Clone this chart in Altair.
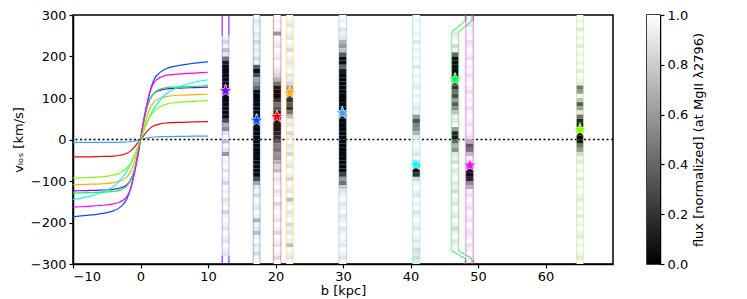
import altair as alt
import pandas as pd

# ---------------- rotation curves ----------------
curve_b = [-10, -8, -6, -4, -3, -2, -1.5, -1, -0.5, 0, 0.5, 1, 1.5, 2, 3, 4, 6, 8, 10]
names = ["purple", "blue", "red", "orange", "lightblue", "cyan", "green", "magenta", "lime"]
colors = ["#8000ff", "#0050ff", "#ff0000", "#ffb000", "#40a0ff", "#00ffff", "#00ff40", "#ff00ff", "#80ff00"]

v_purple = [-124, -123, -122, -120, -117, -109, -98, -79, -44, 0, 45, 80, 100, 111, 119, 122, 124, 125, 126]
v_blue = [-186, -183, -179, -172, -163, -143, -120, -85, -46, 0, 47, 86, 121, 144, 163, 172, 179, 184, 187]
v_red = [-42, -42, -41, -40, -38, -33, -28, -20, -10, 0, 10, 20, 28, 33, 38, 40, 41.5, 42.5, 43]
v_orange = [-109, -108, -107, -104, -100, -90, -78, -58, -30, 0, 30, 58, 78, 90, 100, 104, 107, 108, 109]
v_lightblue = [-7, -7, -7, -7, -6.5, -6, -5, -4, -2, 0, 2, 4, 5, 6, 7, 7, 7.5, 8, 8]
v_cyan = [-145, -139, -129, -113, -98, -76, -61, -43, -22, 0, 22, 42, 60, 75, 97, 112, 128, 138, 144]
v_green = [-129, -128, -127, -125, -122, -112, -100, -80, -45, 0, 45, 80, 100, 112, 122, 125, 127, 128, 130]
v_magenta = [-163, -161, -159, -155, -150, -137, -120, -90, -50, 0, 50, 90, 120, 137, 150, 155, 158, 160, 162]
v_lime = [-93, -92, -90, -86, -80, -68, -58, -42, -22, 0, 22, 42, 58, 68, 80, 86, 90, 92, 94]
curve_values = [v_purple, v_blue, v_red, v_orange, v_lightblue, v_cyan, v_green, v_magenta, v_lime]

# ---------------- spectral strips ----------------
strip_b_lo = [12.1, 16.7, 19.7, 21.6, 29.4, 40.3, 46.1, 48.2, 64.6]
strip_b_hi = [13.1, 17.7, 20.8, 22.6, 30.5, 41.4, 47.1, 49.3, 65.6]
# flux in 10 km/s bins, from +300 (top) to -300 (bottom); None = outside strip
N = None
flux_purple = [N, N, N, N, N, .95, .85, .95, .75, .9,
               .45, .1, .03, .03, .03, .03, .03, .05, .03, .03,
               .03, .03, .03, .03, .05, .3, .7, .55, .9, 1,
               .75, 1, .9, .6, 1, .95, 1, .9, 1, .95,
               .85, 1, .95, 1, .9, .95, 1, .85, .95, 1,
               .95, .9, 1, .95, .9, 1, .95, .9, N, N]
flux_blue = [1, .9, .95, 1, .9, .95, .85, .95, .9, .95,
             .85, .95, .35, .05, .3, .65, .55, .4, .05, .03,
             .03, .03, .03, .03, .03, .03, .03, .03, .03, .03,
             .03, .03, .03, .03, .03, .03, .03, .03, .03, .3,
             .65, .9, .95, .85, 1, .95, .9, 1, .95, .7,
             .95, .9, .75, .95, 1, .9, .95, .85, .95, 1]
flux_red = [1, .95, 1, .95, .6, 1, .95, .9, 1, .95,
            .9, 1, .95, .9, .85, .7, .45, .1, .05, .05,
            .2, .45, .35, .15, .05, .05, .1, .1, .15, .2,
            .35, .5, .45, .6, .55, .7, .85, .75, .95, .9,
            .95, 1, .9, .95, 1, .85, .95, 1, .95, .9,
            1, .95, .85, 1, .95, .9, 1, .95, .85, 1]
flux_orange = [1, .95, .9, 1, .95, .9, 1, .95, .85, 1,
               .95, .9, .95, 1, .9, .95, .85, .6, .5, .3,
               .2, .35, .2, .45, .75, .95, .9, 1, .85, .95,
               1, .9, .95, .85, 1, .95, .9, 1, .95, .85,
               1, .95, .9, 1, .75, .95, 1, .9, .95, 1,
               .85, .95, .9, 1, .95, .75, 1, .95, .9, 1]
flux_lightblue = [1, .95, 1, .9, .95, .9, .7, .6, .75, .35,
                  .05, .05, .4, .1, .03, .03, .03, .03, .03, .03,
                  .03, .03, .03, .03, .03, .03, .03, .03, .03, .03,
                  .03, .03, .03, .03, .03, .03, .03, .03, .25, .6,
                  .45, .8, .9, .95, 1, .9, .95, 1, .9, .95,
                  1, .9, .95, 1, .95, .9, 1, .95, .9, 1]
flux_cyan = [1, .95, 1, 1, .95, 1, .9, 1, .95, 1,
             .95, 1, .9, 1, .95, 1, .95, .9, 1, .95,
             1, .95, .9, .95, .6, .3, .5, .55, .7, .9,
             .95, 1, .95, .9, 1, .75, .35, .05, .2, .85,
             .95, 1, .95, .9, 1, .95, 1, .9, .95, 1,
             .95, .9, 1, .95, .9, .95, .85, .9, .85, .9]
flux_green = [N, N, N, N, .9, .95, 1, .85, .95, .4,
              .05, .05, .05, .05, .1, .15, .3, .2, .45, .3,
              .6, .35, .55, .75, .95, .9, 1, .6, .15, .1,
              .4, .7, .55, .9, .95, .85, 1, .9, .95, 1,
              .9, .95, .85, 1, .95, .9, 1, .95, .9, 1,
              .95, .85, .95, 1, .9, .95, 1, N, N, N]
flux_magenta = [N, .95, .9, 1, .95, 1, .9, .95, 1, .95,
                .9, 1, .95, 1, .9, .95, 1, .95, .9, 1,
                .95, 1, .9, .95, 1, .95, .9, 1, .95, .9,
                .7, .35, .45, .75, .95, .85, .4, .05, .05, .15,
                .55, .7, .95, .9, 1, .95, .9, 1, .95, .9,
                1, .95, .9, .95, 1, .9, .95, 1, .95, N]
flux_lime = [1, .95, 1, .9, 1, .95, 1, .9, 1, .95,
             1, .95, 1, .9, 1, .95, .9, .45, .6, .95,
             .75, .35, .6, .9, .45, .15, .1, .2, .05, .03,
             .1, .45, .6, .85, .95, .9, 1, .95, 1, .9,
             1, .95, 1, .95, .9, 1, .95, 1, .9, 1,
             .95, 1, .95, .9, 1, .95, 1, .95, .9, 1]
strip_flux = [flux_purple, flux_blue, flux_red, flux_orange, flux_lightblue,
              flux_cyan, flux_green, flux_magenta, flux_lime]

# ---------------- stars (measured galaxy velocity) ----------------
star_b = [12.6, 17.2, 20.2, 22.1, 29.9, 40.8, 46.6, 48.8, 65.1]
star_v = [117, 46, 55, 113, 64, -60, 145, -62, 24]

# ---------------- strip outlines: (strip, b1, v1, b2, v2, alpha) ----------------
outline_segments = [
    ("purple", 12.1, 300, 12.1, 250, 1.0), ("purple", 12.1, 250, 12.1, -280, 0.35), ("purple", 12.1, -280, 12.1, -300, 1.0),
    ("purple", 13.1, 300, 13.1, 250, 1.0), ("purple", 13.1, 250, 13.1, -280, 0.35), ("purple", 13.1, -280, 13.1, -300, 1.0),
    ("green", 48.1, 300, 48.1, 286, 1.0), ("green", 48.1, 286, 46.1, 259, 1.0), ("green", 46.1, 259, 46.1, -268, 0.55),
    ("green", 46.1, -268, 48.1, -287, 1.0), ("green", 48.1, -287, 48.1, -300, 1.0),
    ("green", 49.1, 300, 49.1, 286, 1.0), ("green", 49.1, 286, 47.1, 259, 1.0), ("green", 47.1, 259, 47.1, -268, 0.55),
    ("green", 47.1, -268, 49.1, -287, 1.0), ("green", 49.1, -287, 49.1, -300, 1.0),
    ("magenta", 48.2, 300, 48.2, 285, 1.0), ("magenta", 48.2, 285, 48.2, -290, 0.5), ("magenta", 48.2, -290, 48.2, -300, 1.0),
    ("magenta", 49.3, 300, 49.3, 285, 1.0), ("magenta", 49.3, 285, 49.3, -290, 0.5), ("magenta", 49.3, -290, 49.3, -300, 1.0),
]
for nm, lo, hi in zip(names, strip_b_lo, strip_b_hi):
    if nm in ("purple", "green", "magenta"):
        continue
    outline_segments.append((nm, lo, 300, lo, -300, 0.4))
    outline_segments.append((nm, hi, 300, hi, -300, 0.4))

# ---------------- tables ----------------
curve_rows = []
for nm, vals in zip(names, curve_values):
    for b, v in zip(curve_b, vals):
        curve_rows.append({"name": nm, "b": b, "v": v})
curve_df = pd.DataFrame(curve_rows)

strip_rows = []
BIN = 10
for nm, lo, hi, fl in zip(names, strip_b_lo, strip_b_hi, strip_flux):
    for i, f in enumerate(fl):
        if f is None:
            continue
        top = 300 - BIN * i
        strip_rows.append({"name": nm, "b": lo, "b2": hi, "v": top - BIN, "v2": top, "flux": f})
strip_df = pd.DataFrame(strip_rows)

seg_df = pd.DataFrame(outline_segments, columns=["name", "b", "v", "b2", "v2", "alpha"])
star_df = pd.DataFrame({"name": names, "b": star_b, "v": star_v})
zero_df = pd.DataFrame({"v": [0]})

# ---------------- encodings ----------------
H = 249
X = alt.X("b:Q", scale=alt.Scale(domain=[-10, 70], nice=False, zero=False),
          axis=alt.Axis(values=list(range(-10, 61, 10)), title="b [kpc]", titlePadding=1, labelPadding=2))
Y = alt.Y("v:Q", scale=alt.Scale(domain=[-300, 300], nice=False, zero=False),
          axis=alt.Axis(values=list(range(-300, 301, 100)), title="vₗₒₛ [km/s]", titlePadding=5))
name_color = alt.Color("name:N", scale=alt.Scale(domain=names, range=colors), legend=None)

STAR = ("M0,-1L0.235,-0.324L0.951,-0.309L0.38,0.124L0.588,0.809L0,0.4"
        "L-0.588,0.809L-0.38,0.124L-0.951,-0.309L-0.235,-0.324Z")

curves = alt.Chart(curve_df).mark_line(strokeWidth=1.2, interpolate="monotone").encode(
    x=X, y=Y, color=name_color, detail="name:N")
zero = alt.Chart(zero_df).mark_rule(color="black", strokeDash=[2, 2.5], strokeWidth=1.3).encode(y=Y)
strips = alt.Chart(strip_df).mark_rect(strokeWidth=0).encode(
    x=X, x2="b2:Q", y=Y, y2="v2:Q",
    color=alt.Color("flux:Q", scale=alt.Scale(domain=[0, 1], range=["black", "white"], interpolate="rgb"), legend=None))
outlines = alt.Chart(seg_df).mark_rule(strokeWidth=1).encode(
    x=X, x2="b2:Q", y=Y, y2="v2:Q", color=name_color, opacity=alt.Opacity("alpha:Q", scale=None))
stars = alt.Chart(star_df).mark_point(shape=STAR, filled=True, size=185, stroke="white",
                                      strokeWidth=0.7, opacity=1).encode(x=X, y=Y, color=name_color)

main = alt.layer(curves, zero, strips, outlines, stars).resolve_scale(color="independent").properties(
    width=540, height=H)

cb_df = pd.DataFrame({"f0": [0.0], "f1": [1.0]})
cbar = alt.Chart(cb_df).mark_rect(
    color=alt.LinearGradient(gradient="linear",
                             stops=[alt.GradientStop(color="black", offset=0),
                                    alt.GradientStop(color="white", offset=1)],
                             x1=0, x2=0, y1=1, y2=0)
).encode(
    x=alt.value(0), x2=alt.value(13),
    y=alt.Y("f0:Q", scale=alt.Scale(domain=[0, 1], nice=False, zero=False),
            axis=alt.Axis(orient="right", values=[0, 0.2, 0.4, 0.6, 0.8, 1.0], format=".1f",
                          title="flux [normalized] (at MgII λ2796)", titleAngle=270,
                          titleBaseline="top", titlePadding=5)),
    y2="f1:Q",
).properties(width=13, height=H)

chart = alt.hconcat(main, cbar, spacing=31).properties(
    padding={"left": 3, "top": 0, "right": 0, "bottom": 0}, background="white"
).configure_view(stroke="black", strokeWidth=1.5).configure_axis(
    labelFont="DejaVu Sans", titleFont="DejaVu Sans", labelFontSize=13, titleFontSize=13,
    titleFontWeight="normal", labelColor="black", titleColor="black", domainColor="black",
    tickColor="black", domainWidth=1.5, tickWidth=1.2, tickSize=4, grid=False, labelPadding=3)

chart.save("out.html", embed_options={"renderer": "svg", "actions": False})
